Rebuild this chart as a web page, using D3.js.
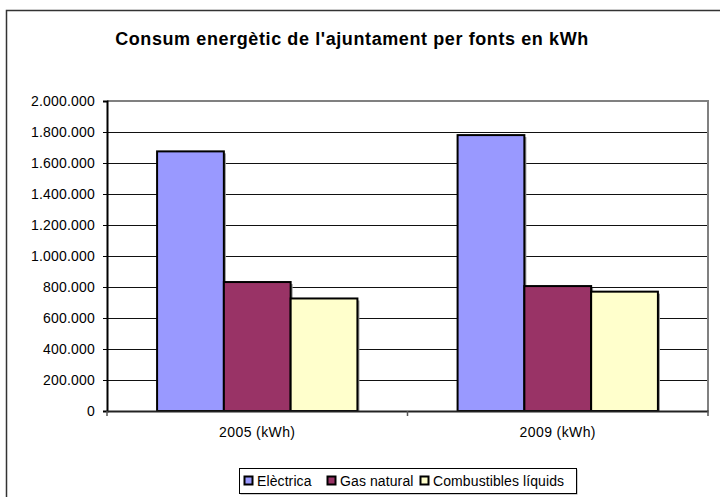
<!DOCTYPE html>
<html>
<head>
<meta charset="utf-8">
<script src="https://cdn.jsdelivr.net/npm/d3@7"></script>
<style>
  html, body { margin: 0; padding: 0; background: #fff; }
  svg { display: block; font-family: Arial, "Liberation Sans", sans-serif; }
</style>
</head>
<body>
<div id="chart"></div>
<script>
// Chart data
const categories = ["2005 (kWh)", "2009 (kWh)"];
const seriesNames = ["Elèctrica", "Gas natural", "Combustibles líquids"];
const seriesColors = ["#9999FF", "#993366", "#FFFFCC"];
const electrica = [1675000, 1780000];
const gasNatural = [832000, 806000];
const combustibles = [726000, 770000];
const yTicks = [0, 200000, 400000, 600000, 800000, 1000000, 1200000, 1400000, 1600000, 1800000, 2000000];

const seriesValues = [electrica, gasNatural, combustibles];

function drawChart() {
    d3.select("#chart").select("svg").remove();

    const width = 720, height = 497;
    const plot = { left: 107, right: 708, top: 101, bottom: 411 };

    const svg = d3.select("#chart")
        .append("svg")
        .attr("width", width)
        .attr("height", height);

    // Outer chart border (runs off the bottom/right of the view)
    svg.append("rect")
        .attr("x", 6.5).attr("y", 10.5)
        .attr("width", 730).attr("height", 500)
        .attr("fill", "none")
        .attr("stroke", "#333")
        .attr("stroke-width", 1.5);

    // Title
    svg.append("text")
        .attr("x", 352)
        .attr("y", 45)
        .attr("text-anchor", "middle")
        .style("font-weight", "bold")
        .style("font-size", "18px")
        .style("letter-spacing", "0.6px")
        .text("Consum energètic de l'ajuntament per fonts en kWh");

    // Scales
    const x0 = d3.scaleBand()
        .domain(categories)
        .range([plot.left, plot.right]);

    const x1 = d3.scaleBand()
        .domain(d3.range(seriesNames.length))
        .range([0, x0.bandwidth() * 2 / 3]);

    const y = d3.scaleLinear()
        .domain([0, 2000000])
        .range([plot.bottom, plot.top]);

    // Gridlines
    svg.append("g")
        .selectAll("line")
        .data(yTicks.slice(1, -1))
        .enter()
        .append("line")
        .attr("x1", plot.left).attr("x2", plot.right)
        .attr("y1", d => Math.round(y(d)) + 0.5)
        .attr("y2", d => Math.round(y(d)) + 0.5)
        .attr("stroke", "#111")
        .attr("stroke-width", 1);

    // Plot area border top/right
    svg.append("path")
        .attr("d", `M${plot.left},${plot.top} H${plot.right} V${plot.bottom}`)
        .attr("fill", "none")
        .attr("stroke", "#808080")
        .attr("stroke-width", 2);

    // Bars
    const groups = svg.append("g")
        .selectAll("g")
        .data(categories)
        .enter()
        .append("g")
        .attr("transform", d => `translate(${x0(d) + x0.bandwidth() / 6},0)`);

    groups.selectAll("rect.shadow")
        .data((d, ci) => seriesValues.map((s, si) => ({ si, v: s[ci] })))
        .enter()
        .append("rect")
        .attr("class", "shadow")
        .attr("x", d => x1(d.si) + 2)
        .attr("y", d => y(d.v) + 2)
        .attr("width", x1.bandwidth())
        .attr("height", d => y(0) - y(d.v) - 2)
        .attr("fill", "#999");

    groups.selectAll("rect.bar")
        .data((d, ci) => seriesValues.map((s, si) => ({ si, v: s[ci] })))
        .enter()
        .append("rect")
        .attr("class", "bar")
        .attr("x", d => x1(d.si))
        .attr("y", d => y(d.v))
        .attr("width", x1.bandwidth())
        .attr("height", d => y(0) - y(d.v))
        .attr("fill", d => seriesColors[d.si])
        .attr("stroke", "#000")
        .attr("stroke-width", 2);

    // Y axis
    const fmt = d3.formatLocale({ decimal: ",", thousands: ".", grouping: [3], currency: ["", ""] }).format(",d");
    const yAxis = svg.append("g")
        .attr("transform", `translate(${plot.left},0)`)
        .call(d3.axisLeft(y).tickValues(yTicks).tickFormat(fmt).tickSize(4).tickPadding(8));
    yAxis.select(".domain").attr("stroke", "#000").attr("stroke-width", 2);
    yAxis.selectAll(".tick line").attr("stroke", "#000");
    yAxis.selectAll("text")
        .style("font-size", "14px")
        .style("letter-spacing", "0.2px")
        .style("fill", "#000")
        .style("font-family", "Arial, 'Liberation Sans', sans-serif");

    // X axis
    const xAxis = svg.append("g")
        .attr("transform", `translate(0,${plot.bottom})`)
        .call(d3.axisBottom(x0).tickSize(0).tickPadding(16));
    xAxis.select(".domain").attr("stroke", "#222").attr("stroke-width", 2);
    xAxis.selectAll("text")
        .style("font-size", "14px")
        .style("letter-spacing", "0.4px")
        .style("fill", "#000")
        .style("font-family", "Arial, 'Liberation Sans', sans-serif");
    // category separator ticks
    xAxis.selectAll("line.sep")
        .data([plot.left, x0(categories[1]), plot.right])
        .enter()
        .append("line")
        .attr("class", "sep")
        .attr("x1", d => d).attr("x2", d => d)
        .attr("y1", 0).attr("y2", 5)
        .attr("stroke", "#555")
        .attr("stroke-width", 1.5);

    // Legend
    const legend = svg.append("g").attr("transform", "translate(239,468)");
    legend.append("rect")
        .attr("x", 1.5).attr("y", 1.5)
        .attr("width", 337).attr("height", 25)
        .attr("fill", "#999");
    legend.append("rect")
        .attr("x", 0.5).attr("y", 0.5)
        .attr("width", 337).attr("height", 25)
        .attr("fill", "#fff")
        .attr("stroke", "#000");
    const itemX = [5, 88, 181];
    const items = legend.selectAll("g.item")
        .data(seriesNames)
        .enter()
        .append("g")
        .attr("class", "item")
        .attr("transform", (d, i) => `translate(${itemX[i]},0)`);
    items.append("rect")
        .attr("x", 0.5).attr("y", 8.5)
        .attr("width", 8).attr("height", 8)
        .attr("fill", (d, i) => seriesColors[i])
        .attr("stroke", "#000")
        .attr("stroke-width", 2);
    items.append("text")
        .attr("x", 13)
        .attr("y", 18)
        .style("font-size", "14px")
        .style("letter-spacing", "0.1px")
        .text(d => d);
}

drawChart();
</script>
</body>
</html>
